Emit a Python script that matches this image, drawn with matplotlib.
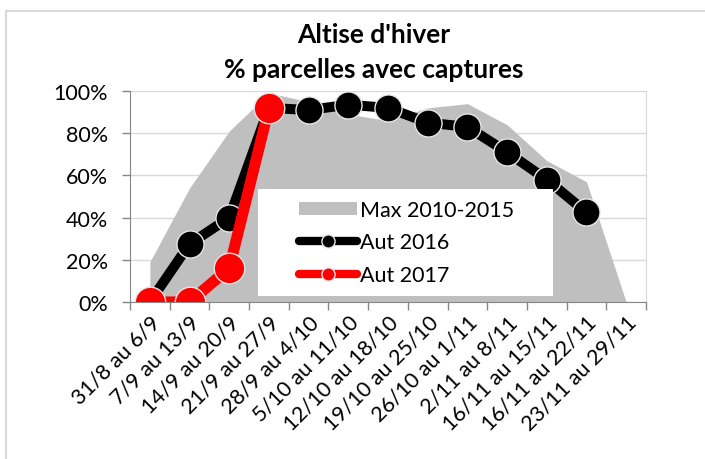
import matplotlib
matplotlib.use("Agg")
import matplotlib.pyplot as plt
import numpy as np
from matplotlib.lines import Line2D
from matplotlib.patches import Patch, Rectangle

categories = ["31/8 au 6/9", "7/9 au 13/9", "14/9 au 20/9", "21/9 au 27/9",
              "28/9 au 4/10", "5/10 au 11/10", "12/10 au 18/10", "19/10 au 25/10",
              "26/10 au 1/11", "2/11 au 8/11", "16/11 au 15/11", "16/11 au 22/11",
              "23/11 au 29/11"]
max_2010_2015 = [19, 54, 81, 99, 95, 89, 86, 92, 94, 84, 67, 57, 0]
aut_2016 = [0, 27.5, 40, 92, 91, 93.5, 92, 85, 83, 71, 58, 42.5, np.nan]
aut_2017 = [0, 0, 16, 92, np.nan, np.nan, np.nan, np.nan, np.nan, np.nan, np.nan, np.nan, np.nan]
yticks = [0, 20, 40, 60, 80, 100]
ytick_labels = ["0%", "20%", "40%", "60%", "80%", "100%"]

plt.rcParams['font.family'] = ['Lato', 'DejaVu Sans']

W, H = 705, 460
L, R, B, T = 130, 646, 303, 92
fig = plt.figure(figsize=(W/100, H/100), dpi=100)
ax = fig.add_axes([L/W, 1-B/H, (R-L)/W, (B-T)/H])

x = np.arange(len(categories))
ax.fill_between(x, 0, max_2010_2015, color="#bfbfbf", linewidth=0, zorder=2)
ax.plot(x, aut_2016, color="black", lw=7.2, marker="o", ms=19.5,
        mfc="black", mec="#e6e6e6", mew=1.0, zorder=3)
ax.plot(x, aut_2017, color="#ff0000", lw=8, marker="o", ms=22,
        mfc="#ff0000", mec="#e6e6e6", mew=1.0, zorder=4)

ax.set_xlim(-0.5, len(categories)-0.5)
ax.set_ylim(0, 100)
ax.set_yticks(yticks)
ax.set_yticklabels(ytick_labels, fontsize=15.5)
ax.set_xticks(np.arange(-0.5, len(categories)), minor=False)
ax.set_xticklabels([])
ax.set_xticks(x, minor=True)
ax.set_xticklabels(categories, minor=True, rotation=45, ha="right",
                   va="top", rotation_mode="anchor", fontsize=15.5)
ax.tick_params(axis="x", which="minor", length=0, pad=7)
ax.tick_params(axis="x", which="major", length=6, color="#868686", width=1)
ax.tick_params(axis="y", length=6, color="#868686", width=1, pad=10)
ax.grid(axis="y", color="#d9d9d9", lw=1, zorder=0)
ax.set_axisbelow(True)
ax.spines["top"].set_visible(False)
ax.spines["right"].set_color("#d9d9d9")
ax.spines["left"].set_color("#868686")
ax.spines["bottom"].set_color("#868686")
ax.spines["bottom"].set_zorder(5)

# legend background box
def fx(px):
    return (px - L) / (R - L)

def fy(py):
    return (B - py) / (B - T)

ax.add_patch(Rectangle((fx(258), fy(297)), fx(553)-fx(258), fy(190)-fy(297),
                       transform=ax.transAxes, facecolor="white", edgecolor="none",
                       zorder=5))

handles = [Patch(facecolor="#bfbfbf", edgecolor="none"),
           Line2D([], [], color="black", lw=6, marker="o", ms=9.5, mfc="black",
                  mec="#e6e6e6", solid_capstyle="round"),
           Line2D([], [], color="#ff0000", lw=6, marker="o", ms=9.5, mfc="#ff0000",
                  mec="#e6e6e6", solid_capstyle="round")]
leg = ax.legend(handles, ["Max 2010-2015", "Aut 2016", "Aut 2017"],
                loc="upper left", bbox_to_anchor=(fx(299), fy(201)),
                frameon=False, fontsize=15.5, borderaxespad=0, borderpad=0,
                handlelength=2.7, handleheight=0.6, handletextpad=0.15,
                labelspacing=0.58)
leg.set_zorder(6)

fig.text(374/W, 1-35/H, "Altise d'hiver", ha="center", va="center",
         fontsize=19, fontweight="bold")
fig.text(374/W, 1-70/H, "% parcelles avec captures", ha="center", va="center",
         fontsize=19, fontweight="bold")

# outer chart border
fig.add_artist(Line2D([6/W, 6/W], [0, 1-12/H], color="#d9d9d9", lw=1.5))
fig.add_artist(Line2D([6/W, 1], [1-12/H, 1-12/H], color="#d9d9d9", lw=1.5))

fig.savefig("out.png", dpi=100)
